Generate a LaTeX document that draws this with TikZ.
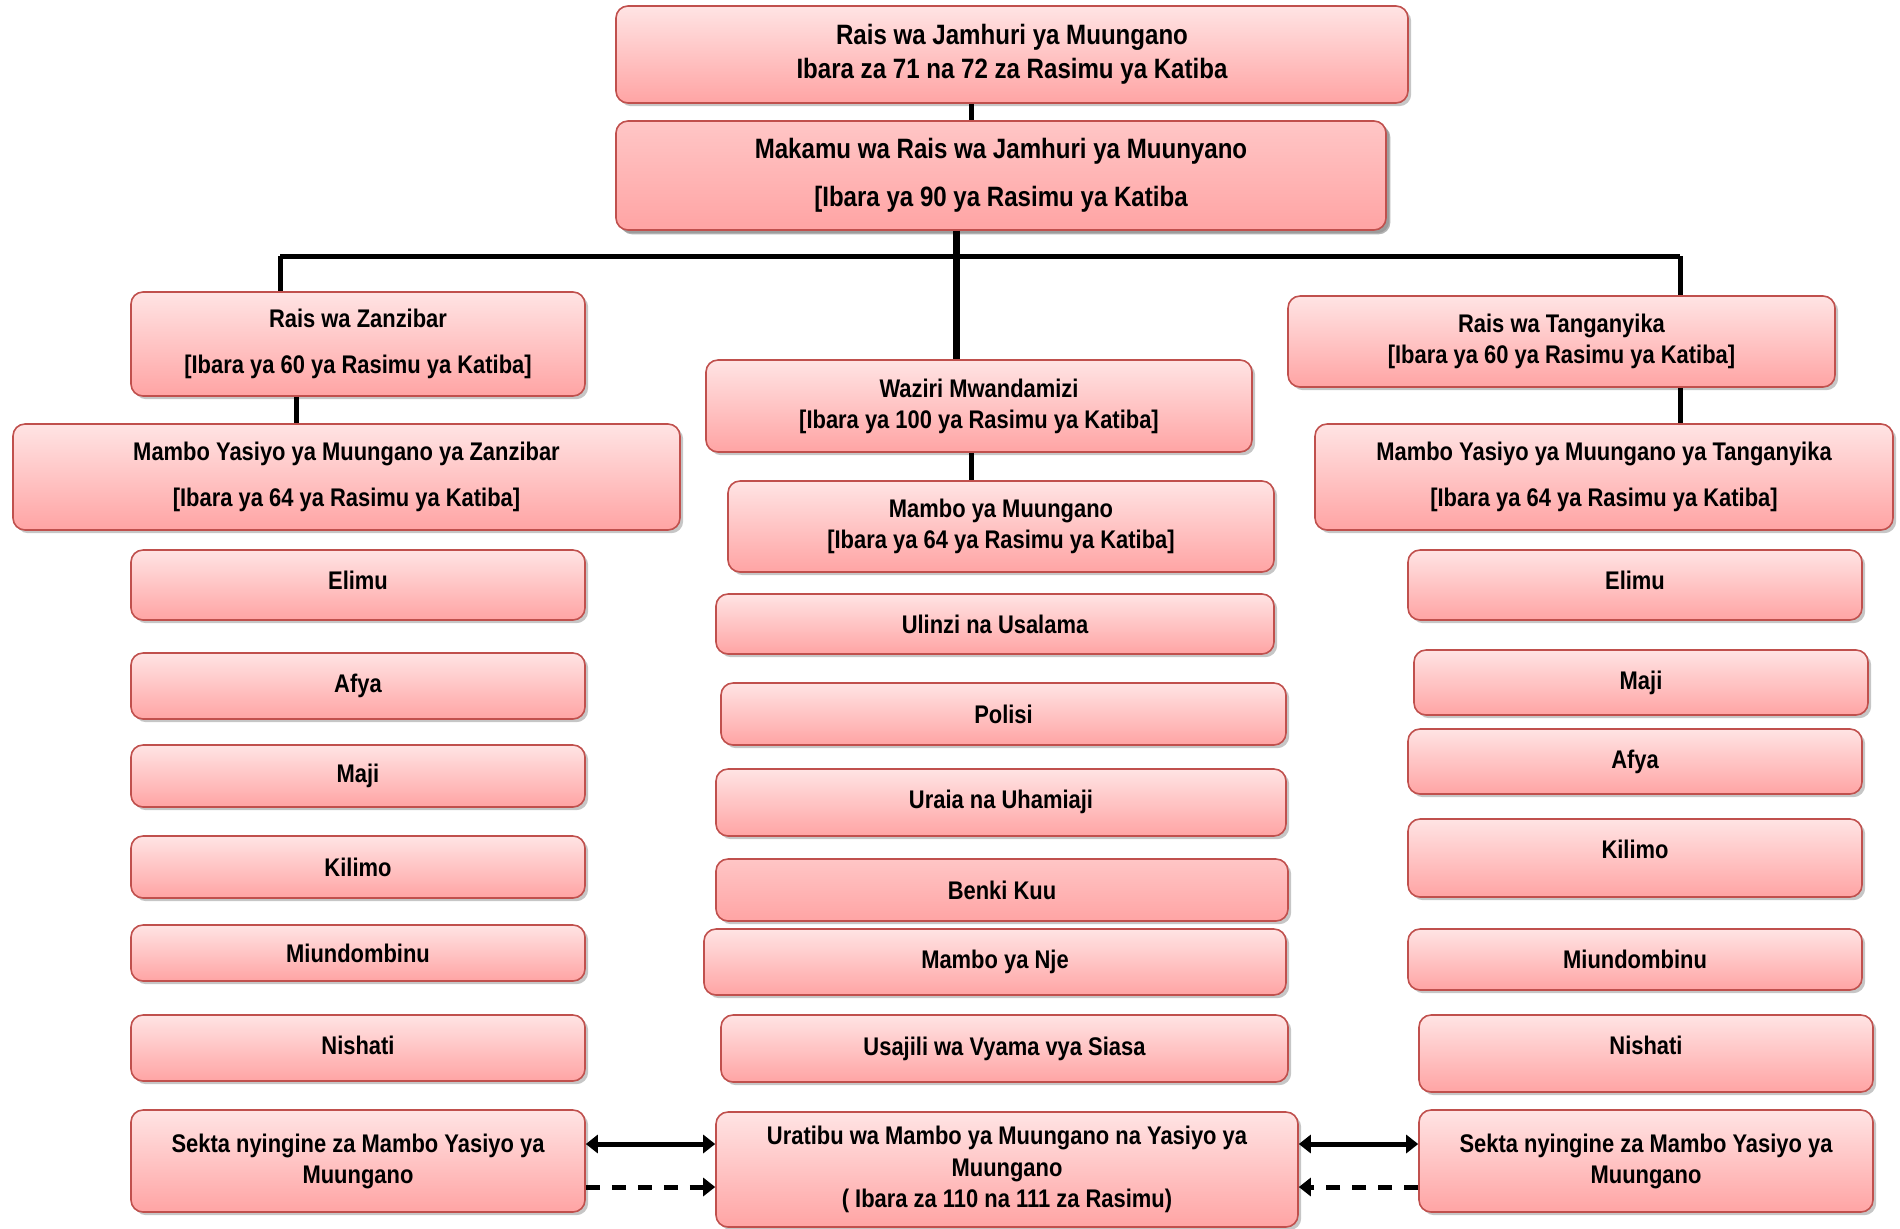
\documentclass[tikz,border=0pt]{standalone}
\usepackage{fontspec}
\setmainfont{Liberation Sans}[FakeStretch=0.86]
\usetikzlibrary{arrows.meta,shadows}
\definecolor{boxred}{HTML}{C0504D}
\definecolor{pinktop}{HTML}{FFE4E4}
\definecolor{pinkbot}{HTML}{FFA4A4}
\definecolor{pinkmid}{HTML}{FFC6C6}
\begin{document}
\begin{tikzpicture}[x=0.5pt,y=-0.5pt,
  box/.style={draw=boxred, line width=0.8pt, rounded corners=6pt,
    top color=pinktop, bottom color=pinkbot,
    drop shadow={shadow xshift=1.6pt, shadow yshift=-1.6pt, opacity=0.45},
    align=center, inner sep=2pt,
    font=\fontsize{12.75}{15.5}\selectfont\bfseries},
  dark/.style={top color=pinkmid, bottom color=pinkbot},
  loose/.style={font=\fontsize{12.75}{23}\selectfont\bfseries},
  item/.style={box, minimum width=227pt},
  conn/.style={line width=2.5pt},
  biarrow/.style={line width=2.5pt, {Triangle[length=6pt,width=9pt]}-{Triangle[length=6pt,width=9pt]}},
  dasharrow/.style={line width=2.5pt, dash pattern=on 7pt off 6pt, -{Triangle[length=6pt,width=9pt]}}]
\useasboundingbox (0,0) rectangle (1900,1228);
% top of the chart
\node[box, minimum width=396pt, minimum height=48.5pt, font=\fontsize{14}{17}\selectfont\bfseries] (rais) at (1012,54.5) {Rais wa Jamhuri ya Muungano\\Ibara za 71 na 72 za Rasimu ya Katiba};
\node[box, dark, minimum width=385pt, minimum height=54.5pt, font=\fontsize{14}{24}\selectfont\bfseries,
  drop shadow={shadow xshift=2.2pt, shadow yshift=-2.2pt, opacity=0.6}] (makamu) at (1001,175.5) {Makamu wa Rais wa Jamhuri ya Muunyano\\{[Ibara ya 90 ya Rasimu ya Katiba}};
% Zanzibar column
\node[box, loose, minimum width=227pt, minimum height=52pt] (zanz) at (358,344) {Rais wa Zanzibar\\{[Ibara ya 60 ya Rasimu ya Katiba]}};
\node[box, loose, minimum width=333.5pt, minimum height=53pt] (yasiyoZ) at (346.5,477) {Mambo Yasiyo ya Muungano ya Zanzibar\\{[Ibara ya 64 ya Rasimu ya Katiba]}};
\node[item, minimum height=35pt, text depth=5pt] (elimuZ) at (358,585) {Elimu};
\node[item, minimum height=33pt] (afyaZ) at (358,686) {Afya};
\node[item, minimum height=31pt] (majiZ) at (358,776) {Maji};
\node[item, minimum height=31pt] (kilimoZ) at (358,867) {Kilimo};
\node[item, minimum height=28pt] (miundZ) at (358,953) {Miundombinu};
\node[item, minimum height=33pt, text depth=3pt] (nishatiZ) at (358,1048) {Nishati};
\node[item, minimum height=51pt] (sektaZ) at (358,1161) {Sekta nyingine za Mambo Yasiyo ya\\Muungano};
% Muungano column
\node[box, minimum width=273pt, minimum height=46pt] (waziri) at (979,406) {Waziri Mwandamizi\\{[Ibara ya 100 ya Rasimu ya Katiba]}};
\node[box, minimum width=273pt, minimum height=45.5pt] (muungano) at (1001,526.5) {Mambo ya Muungano\\{[Ibara ya 64 ya Rasimu ya Katiba]}};
\node[box, minimum width=279pt, minimum height=30pt] (ulinzi) at (995,624) {Ulinzi na Usalama};
\node[box, minimum width=282.5pt, minimum height=31pt] (polisi) at (1003.5,714) {Polisi};
\node[box, minimum width=285pt, minimum height=33.5pt, text depth=3pt] (uraia) at (1001,802.5) {Uraia na Uhamiaji};
\node[box, dark, minimum width=286pt, minimum height=31pt] (benki) at (1002,890) {Benki Kuu};
\node[box, minimum width=291pt, minimum height=33pt] (nje) at (995,962) {Mambo ya Nje};
\node[box, minimum width=283.5pt, minimum height=33.5pt] (usajili) at (1004.5,1048.5) {Usajili wa Vyama vya Siasa};
\node[box, minimum width=291pt, minimum height=57.5pt, font=\fontsize{12.75}{15.75}\selectfont\bfseries] (uratibu) at (1007,1169.5) {Uratibu wa Mambo ya Muungano na Yasiyo ya\\Muungano\\( Ibara za 110 na 111 za Rasimu)};
% Tanganyika column
\node[box, minimum width=273.5pt, minimum height=45.5pt] (tang) at (1561.5,341.5) {Rais wa Tanganyika\\{[Ibara ya 60 ya Rasimu ya Katiba]}};
\node[box, loose, minimum width=289pt, minimum height=53pt] (yasiyoT) at (1604,477) {Mambo Yasiyo ya Muungano ya Tanganyika\\{[Ibara ya 64 ya Rasimu ya Katiba]}};
\node[item, minimum height=35pt, text depth=5pt] (elimuT) at (1635,585) {Elimu};
\node[item, minimum height=32.5pt] (majiT) at (1641,682.5) {Maji};
\node[item, minimum height=32.5pt] (afyaT) at (1635,761.5) {Afya};
\node[item, minimum height=39pt, text depth=8.5pt] (kilimoT) at (1635,858) {Kilimo};
\node[item, minimum height=30.5pt] (miundT) at (1635,959.5) {Miundombinu};
\node[item, minimum height=38.5pt, text depth=8.5pt] (nishatiT) at (1646,1053.5) {Nishati};
\node[item, minimum height=51pt] (sektaT) at (1646,1161) {Sekta nyingine za Mambo Yasiyo ya\\Muungano};
% connectors
\coordinate (busL) at (280,256);
\coordinate (busM) at (956,256);
\coordinate (busR) at (1680,256);
\coordinate (colA) at (971,0);
\coordinate (colZ) at (296,0);
\coordinate (rowA) at (0,1144);
\coordinate (rowB) at (0,1187);
\draw[conn] (rais.south -| colA) -- (makamu.north -| colA);
\draw[conn] (busL) -- (busR);
\draw[conn] (busL) -- (busL |- zanz.north);
\draw[conn] (busR) -- (busR |- tang.north);
\draw[conn, line width=3.5pt] (makamu.south -| busM) -- (waziri.north -| busM);
\draw[conn] (zanz.south -| colZ) -- (yasiyoZ.north -| colZ);
\draw[conn] (tang.south -| busR) -- (yasiyoT.north -| busR);
\draw[conn] (waziri.south -| colA) -- (muungano.north -| colA);
\draw[biarrow] (sektaZ.east |- rowA) -- (uratibu.west |- rowA);
\draw[dasharrow] (sektaZ.east |- rowB) -- (uratibu.west |- rowB);
\draw[biarrow] (uratibu.east |- rowA) -- (sektaT.west |- rowA);
\draw[dasharrow] (sektaT.west |- rowB) -- (uratibu.east |- rowB);
\end{tikzpicture}
\end{document}
